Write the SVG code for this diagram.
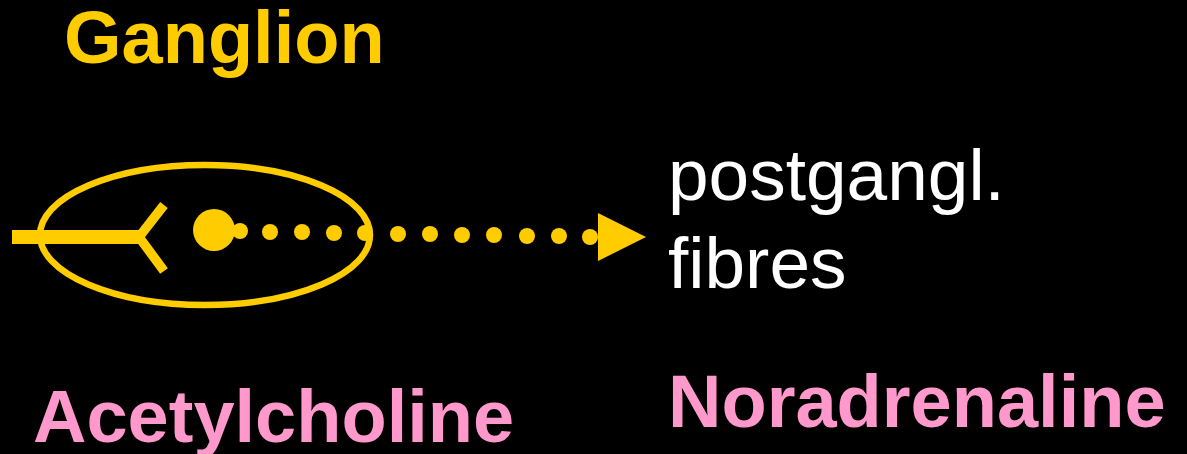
<svg xmlns="http://www.w3.org/2000/svg" width="1187" height="454" viewBox="0 0 1187 454">
  <style>
    .bold { font-family: "Liberation Sans", Arial, sans-serif; font-weight: bold; font-size: 74px; }
    .plain { font-family: "Liberation Sans", Arial, sans-serif; font-size: 73px; fill: #FFFFFF; }
    .yellow { fill: #FFCC00; }
    .pink { fill: #FF99CC; }
    .nerve { stroke: #FFCC00; fill: none; }
  </style>
  <rect width="1187" height="454" fill="#000000"/>

  <g id="ganglion">
    <ellipse cx="205" cy="235" rx="165" ry="70" class="nerve" stroke-width="6.5"/>
    <text x="64" y="63" class="bold yellow">Ganglion</text>
  </g>

  <g id="preganglionic-fibre">
    <line x1="12" y1="237" x2="140" y2="237" class="nerve" stroke-width="14"/>
    <polyline points="164,205 139,237 164,271" class="nerve" stroke-width="9.5"/>
  </g>

  <g id="cell-body">
    <circle cx="214" cy="230" r="21" fill="#FFCC00"/>
  </g>

  <g id="connectors">
    <!-- dotted postganglionic axon -->
    <g fill="#FFCC00">
      <circle cx="240" cy="231" r="8"/>
      <circle cx="270" cy="232" r="8"/>
      <circle cx="302" cy="232" r="8"/>
      <circle cx="334" cy="233" r="8"/>
      <circle cx="365" cy="233" r="8"/>
      <circle cx="398" cy="234" r="8"/>
      <circle cx="430" cy="234" r="8"/>
      <circle cx="462" cy="235" r="8"/>
      <circle cx="494" cy="235" r="8"/>
      <circle cx="527" cy="236" r="8"/>
      <circle cx="559" cy="236" r="8"/>
      <circle cx="590" cy="237" r="8"/>
    </g>
    <polygon points="598,213 646,237 598,261" fill="#FFCC00"/>
  </g>

  <g id="postganglionic-label">
    <text x="668" y="200" class="plain">postgangl.</text>
    <text x="668" y="288" class="plain">fibres</text>
  </g>

  <g id="transmitter-labels">
    <text x="33" y="442" class="bold pink">Acetylcholine</text>
    <text x="668" y="427" class="bold pink">Noradrenaline</text>
  </g>
</svg>
